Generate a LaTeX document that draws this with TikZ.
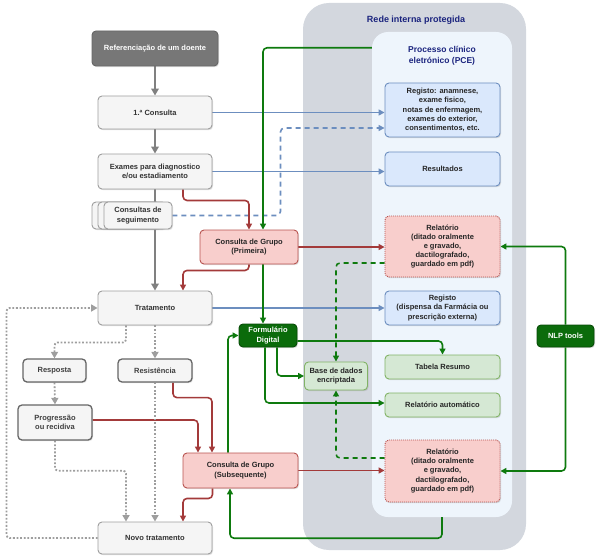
\documentclass[tikz,border=0pt]{standalone}
\usepackage{fontspec}
\setmainfont{Liberation Sans}
\usetikzlibrary{arrows.meta,shadows}
\definecolor{gfill}{HTML}{F5F5F5}
\definecolor{gline}{HTML}{9E9E9E}
\definecolor{gdark}{HTML}{666666}
\definecolor{refill}{HTML}{777777}
\definecolor{pfill}{HTML}{F8CECC}
\definecolor{pline}{HTML}{B85450}
\definecolor{redarr}{HTML}{A33A3A}
\definecolor{bfill}{HTML}{DAE8FC}
\definecolor{bline}{HTML}{6C8EBF}
\definecolor{lgfill}{HTML}{D5E8D4}
\definecolor{lgline}{HTML}{82B366}
\definecolor{dgfill}{HTML}{0B6B0B}
\definecolor{garr}{HTML}{0E7A0E}
\definecolor{outerfill}{HTML}{D3D7DE}
\definecolor{innerfill}{HTML}{EEF5FC}
\definecolor{navy}{HTML}{1A237E}
\definecolor{greyarr}{HTML}{808080}
\pgfdeclarelayer{bg}\pgfdeclarelayer{edges}
\pgfsetlayers{bg,edges,main}
\tikzset{
  box/.style={draw, rounded corners=4pt, align=center, inner sep=1pt,
    font=\bfseries\fontsize{7.5}{9.2}\selectfont, line width=0.9pt,
    drop shadow={opacity=0.25, shadow xshift=1pt, shadow yshift=-1.2pt}},
  greybox/.style={box, fill=gfill, draw=gline, text=black!80},
  refbox/.style={box, fill=refill, draw=gdark, text=white},
  outbox/.style={box, fill=gfill, draw=gdark, line width=1.3pt, text=black!75},
  pinkbox/.style={box, fill=pfill, draw=pline, text=black!85},
  pinkdot/.style={pinkbox, dash pattern=on 1pt off 1pt},
  bluebox/.style={box, fill=bfill, draw=bline, text=black!85},
  lgbox/.style={box, fill=lgfill, draw=lgline, text=black!85},
  dgbox/.style={box, fill=dgfill, draw=dgfill!70!black, text=white},
  garrow/.style={draw=garr, line width=1.6pt, rounded corners=4pt, -{Triangle[length=6pt,width=6pt]}, fill=none},
  rarrow/.style={draw=redarr, line width=1.6pt, rounded corners=4pt, -{Triangle[length=6pt,width=6pt]}},
  barrow/.style={draw=bline, line width=1.6pt, rounded corners=4pt, -{Triangle[length=6pt,width=6pt]}},
  grarrow/.style={draw=greyarr, line width=2.4pt, -{Triangle[length=7pt,width=7.5pt]}},
  dotarrow/.style={draw=gline, line width=1.8pt, dash pattern=on 1.8pt off 1.8pt, rounded corners=3pt, -{Triangle[length=6.5pt,width=7pt]}},
}
\begin{document}
\begin{tikzpicture}[x=1pt,y=-1pt]
\useasboundingbox (0,0) rectangle (596,556);
\begin{pgfonlayer}{bg}
\node[fill=outerfill, rounded corners=26pt, minimum width=223pt, minimum height=547pt, inner sep=0pt] (rede) at (414.5,276.5) {};
\node[fill=innerfill, rounded corners=16pt, minimum width=140pt, minimum height=485pt, inner sep=0pt] (pce) at (442,274.5) {};
\end{pgfonlayer}
\node[text=navy, font=\bfseries\fontsize{9}{10}\selectfont] (redet) at (416,20) {Rede interna protegida};
\node[text=navy, align=center, font=\bfseries\fontsize{8.5}{11}\selectfont] (pcet) at (442,56) {Processo clínico\\eletrónico (PCE)};

% left column
\node[refbox, minimum width=126pt, minimum height=35pt] (ref) at (155,48.5) {Referenciação de um doente};
\node[greybox, minimum width=114pt, minimum height=33pt] (c1) at (155,112.5) {1.ª Consulta};
\node[greybox, minimum width=114pt, minimum height=35pt] (ex) at (155,171.5) {Exames para diagnostico\\e/ou estadiamento};
\node[greybox, minimum width=68pt, minimum height=27pt] (cs3) at (126,215.5) {};
\node[greybox, minimum width=68pt, minimum height=27pt] (cs2) at (132,215.5) {};
\node[greybox, minimum width=68pt, minimum height=27pt] (cs) at (138,215.5) {Consultas de\\seguimento};
\node[pinkbox, minimum width=98pt, minimum height=34pt] (prim) at (249,247) {Consulta de Grupo\\(Primeira)};
\node[greybox, minimum width=114pt, minimum height=34pt] (tr) at (155,308) {Tratamento};
\node[dgbox, minimum width=58pt, minimum height=23pt] (form) at (268,335.5) {Formulário\\Digital};
\node[outbox, minimum width=63pt, minimum height=23pt] (resp) at (54.5,370.5) {Resposta};
\node[outbox, minimum width=74pt, minimum height=23pt] (resi) at (155,370.5) {Resistência};
\node[outbox, minimum width=74pt, minimum height=35pt] (prog) at (55,422.5) {Progressão\\ou recidiva};
\node[pinkbox, minimum width=115pt, minimum height=35pt] (sub) at (240.5,470.5) {Consulta de Grupo\\(Subsequente)};
\node[greybox, minimum width=114pt, minimum height=32pt] (nt) at (155,538) {Novo tratamento};
\node[lgbox, minimum width=63pt, minimum height=28pt] (base) at (336,376) {Base de dados\\encriptada};

% PCE column
\node[bluebox, minimum width=115pt, minimum height=54pt] (reg1) at (442.5,110) {Registo: anamnese,\\exame fisico,\\notas de enfermagem,\\exames do exterior,\\consentimentos, etc.};
\node[bluebox, minimum width=115pt, minimum height=34pt] (res) at (442.5,169) {Resultados};
\node[pinkdot, minimum width=115pt, minimum height=61pt] (rel1) at (442.5,246.5) {Relatório\\(ditado oralmente\\e gravado,\\dactilografado,\\guardado em pdf)};
\node[bluebox, minimum width=115pt, minimum height=34pt] (reg2) at (442.5,308) {Registo\\(dispensa da Farmácia ou\\prescrição externa)};
\node[lgbox, minimum width=115pt, minimum height=24pt] (tab) at (442.5,367) {Tabela Resumo};
\node[lgbox, minimum width=115pt, minimum height=24pt] (auto) at (442.5,405) {Relatório automático};
\node[pinkdot, minimum width=115pt, minimum height=62pt] (rel2) at (442.5,471) {Relatório\\(ditado oralmente\\e gravado,\\dactilografado,\\guardado em pdf)};
\node[dgbox, minimum width=57pt, minimum height=22pt] (nlp) at (565.5,336) {NLP tools};

\begin{pgfonlayer}{edges}
% grey main flow
\draw[grarrow] (ref) -- (c1);
\draw[grarrow] (c1) -- (ex);
\draw[grarrow] (ex) -- (tr);
% blue
\draw[barrow] (c1.east) -- (c1.east -| reg1.west);
\draw[barrow] (ex.east) -- (ex.east -| res.west);
\draw[barrow] (tr.east) -- (tr.east -| reg2.west);
\draw[barrow, dash pattern=on 5pt off 4pt] (cs.east) -- ++(108,0) |- ([yshift=-18pt]reg1.west);
% red
\draw[rarrow] ([xshift=28pt]ex.south) -- ++(0,11) -| (prim.north);
\draw[rarrow] (prim.south) -- ++(0,6) -| ([xshift=28pt]tr.north);
\draw[rarrow] (prim.east) -- (prim.east -| rel1.west);
\draw[rarrow] (sub.east) -- (sub.east -| rel2.west);
\draw[rarrow] ([xshift=-28pt]sub.south) -- ++(0,10) -| ([xshift=28pt]nt.north);
\draw[rarrow] ([xshift=18pt]resi.south) -- ++(0,15) -| ([xshift=-28.5pt]sub.north);
\draw[rarrow] ([yshift=2.5pt]prog.east) -| ([xshift=-42.5pt]sub.north);
% green
\draw[garrow] ([yshift=-16pt]pce.north west) -| ([xshift=14pt]prim.north);
\draw[garrow] ([xshift=14pt]prim.south) -- ([xshift=14pt]prim.south |- form.north);
\draw[garrow] ([yshift=-5.5pt]form.east) -| (tab.north);
\draw[garrow] ([xshift=9pt]form.south) |- (base.west);
\draw[garrow] ([xshift=-3pt]form.south) |- ([yshift=2pt]auto.west);
\draw[garrow] ([xshift=-12.5pt]sub.north) |- (form.west);
\draw[garrow] (pce.south) -- ++(0,21) -| ([xshift=-10.5pt]sub.south);
\draw[garrow] (nlp.north) |- (rel1.east);
\draw[garrow] (nlp.south) |- (rel2.east);
\draw[garrow, dash pattern=on 5pt off 4pt] ([yshift=-16.5pt]rel1.west) -| (base.north);
\draw[garrow, dash pattern=on 5pt off 4pt] ([yshift=13pt]rel2.west) -| (base.south);
% dotted grey
\draw[dotarrow] ([xshift=-29pt]tr.south) -- ++(0,17) -| (resp.north);
\draw[dotarrow] (tr.south) -- (resi.north);
\draw[dotarrow] (resp.south) -- (prog.north);
\draw[dotarrow] (prog.south) -- ++(0,30) -| ([xshift=-29pt]nt.north);
\draw[dotarrow] (resi.south) -- (nt.north);
\draw[dotarrow] (nt.west) -- ++(-91,0) |- (tr.west);
\end{pgfonlayer}
\end{tikzpicture}
\end{document}
